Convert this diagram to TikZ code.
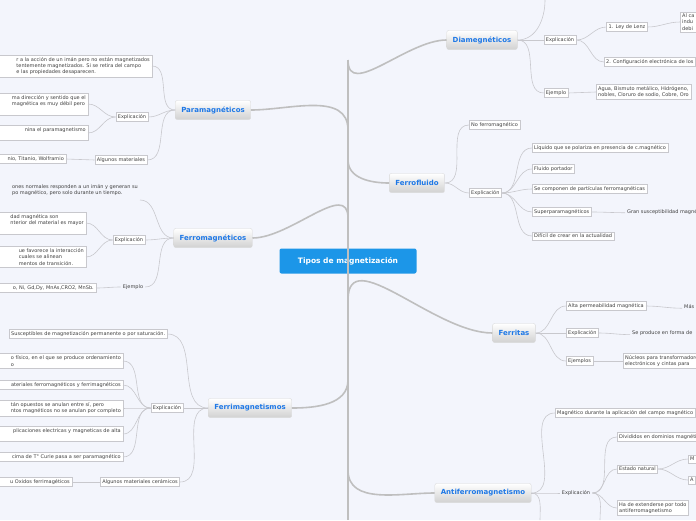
\documentclass[tikz,border=0pt]{standalone}
\usepackage{fontspec}
\setmainfont{DejaVu Sans}
\usetikzlibrary{positioning,backgrounds}
\definecolor{bgcol}{RGB}{243,245,252}
\definecolor{linecol}{RGB}{200,200,205}
\definecolor{topicblue}{RGB}{30,120,230}
\definecolor{maincol}{RGB}{28,150,232}
\tikzset{
  leaf/.style={draw=linecol, fill=white, inner sep=2pt, font=\fontsize{5}{6.2}\selectfont, text=black!75, align=left},
  cutleaf/.style={inner sep=2pt, anchor=east, font=\fontsize{5}{6.2}\selectfont, text=black!75, align=left},
  bare/.style={inner sep=2pt, font=\fontsize{5}{6.2}\selectfont, text=black!75, align=left},
  topic/.style={draw=black!15, rounded corners=2pt, top color=white, bottom color=black!18,
    minimum height=19pt, inner xsep=6pt, font=\fontsize{7}{8}\selectfont\bfseries, text=topicblue},
  link/.style={draw=linecol, line width=0.6pt},
  trunk/.style={draw=black!25, line width=1.6pt}
}
\begin{document}
\begin{tikzpicture}[x=1pt,y=-1pt]
\begin{scope}[on background layer]
\fill[bgcol] (0,0) rectangle (696,520);
\end{scope}
\clip (0,0) rectangle (696,520);
\useasboundingbox (0,0) rectangle (696,520);
% centre
\node[fill=maincol, rounded corners=2pt, text=white, font=\fontsize{7.5}{9}\selectfont\bfseries,
  minimum width=137pt, minimum height=25pt] (main) at (348,261) {Tipos de magnetización};
% topics
\node[topic] (diam) at (482,40) {Diamegnéticos};
\node[topic] (para) at (213,110) {Paramagnéticos};
\node[topic] (ffl) at (417,183) {Ferrofluido};
\node[topic] (ferro) at (213,238) {Ferromagnéticos};
\node[topic] (frt) at (514,333) {Ferritas};
\node[topic] (ferri) at (250,408) {Ferrimagnetismos};
\node[topic] (anti) at (483,493) {Antiferromagnetismo};
% trunk
\coordinate (top) at (348,60);
\coordinate (bot) at (348,520);
\draw[trunk] (top) -- (bot);
\draw[trunk] (top) to[out=-90,in=180] (diam.west);
\draw[trunk] (348,130) to[out=90,in=0] (para.east);
\draw[trunk] (348,160) to[out=-90,in=180] (ffl.west);
\draw[trunk] (348,218) to[out=90,in=0] (ferro.east);
\draw[trunk] (348,300) to[out=90,in=180] (frt.west);
\draw[trunk] (348,380) to[out=-90,in=0] (ferri.east);
\draw[trunk] (348,470) to[out=-90,in=180] (anti.west);

% Diamegneticos
\node[leaf] (dexp) at (560,40) {Explicación};
\node[leaf] (dej) at (556,93) {Ejemplo};
\node[leaf] (lenz) at (627,27) {1. Ley de Lenz};
\node[leaf, anchor=west] (conf) at (604,62) {2. Configuración electrónica de los};
\node[leaf, anchor=west] (ca) at (680,22) {Al ca\\indu\\debi};
\node[leaf, anchor=west] (agua) at (596,92) {Agua, Bismuto metálico, Hidrógeno,\\nobles, Cloruro de sodio, Cobre, Oro};
\coordinate (dup) at (545,0);
\draw[link] (diam.east) to[out=0,in=-90] (dup);
\draw[link] (diam.east) -- (dexp.west);
\draw[link] (diam.east) to[out=0,in=180] (dej.west);
\draw[link] (dexp.east) to[out=0,in=180] (lenz.west);
\draw[link] (dexp.east) to[out=0,in=180] (conf.west);
\draw[link] (lenz.east) to[out=0,in=180] (ca.west);
\draw[link] (dej.east) -- (agua.west);

% Paramagneticos
\node[cutleaf] (p1) at (152,66) {r a la acción de un imán pero no están magnetizados\\tentemente magnetizados. Si se retira del campo\\e las propiedades desaparecen.};
\node[leaf] (pexp) at (132,117) {Explicación};
\node[cutleaf] (p2) at (88,104) {ma dirección y sentido que el\\ magnética es muy débil pero\\[1pt]};
\node[cutleaf] (p3) at (88,133) {nina el paramagnetismo\\[1pt]};
\node[leaf] (palg) at (121,160) {Algunos materiales};
\node[cutleaf] (p4) at (66,159) {nio, Titanio, Wolframio};
\draw[link] (para.west) to[out=180,in=0] (p1.east);
\draw[link] (para.west) to[out=180,in=0] (pexp.east);
\draw[link] (para.west) to[out=180,in=0] (palg.east);
\draw[link] (pexp.west) to[out=180,in=0] (p2.east);
\draw[link] (pexp.west) to[out=180,in=0] (p3.east);
\draw[link] (palg.west) -- (p4.east);

% Ferromagneticos
\node[bare, anchor=east] (f1) at (140,190) {ones normales responden a un imán y generan su\\po magnético, pero solo durante un tiempo.};
\node[leaf] (fexp) at (129,240) {Explicación};
\node[cutleaf] (f2) at (86,223) {dad magnética son\\nterior del material es mayor\\[1pt]};
\node[cutleaf] (f3) at (86,257) {ue favorece la interacción\\cuales se alinean\\mentos de transición.};
\node[bare] (fej) at (133,287) {Ejemplo};
\node[cutleaf] (f4) at (96,288) {o, Ni, Gd,Dy, MnAs,CRO2, MnSb.};
\draw[link] (ferro.west) to[out=180,in=0] (140,200);
\draw[link] (ferro.west) to[out=180,in=0] (fexp.east);
\draw[link] (ferro.west) to[out=180,in=0] (fej.east);
\draw[link] (fexp.west) to[out=180,in=0] (f2.east);
\draw[link] (fexp.west) to[out=180,in=0] (f3.east);
\draw[link] (fej.west) to[out=180,in=0] (f4.east);

% Ferrimagnetismos
\node[leaf, anchor=west] (r1) at (9,334) {Susceptibles de magnetización permanente o por saturación.};
\node[leaf] (rexp) at (167,408) {Explicación};
\node[cutleaf] (r2) at (123,361) {o físico, en el que se produce ordenamiento\\o};
\node[cutleaf] (r3) at (123,385) {ateriales ferromagnéticos y ferrimagnéticos};
\node[cutleaf] (r4) at (123,408) {tán opuestos se anulan entre sí,  pero\\ntos magnéticos no se anulan por completo};
\node[cutleaf] (r5) at (123,434) {plicaciones electricas y magneticas de alta\\[1pt]};
\node[cutleaf] (r6) at (123,457) {cima de T° Curie pasa a ser paramagnético};
\node[leaf] (ralg) at (140,482) {Algunos materiales cerámicos};
\node[cutleaf] (r7) at (72,482) {u Oxidos ferrimagéticos};
\draw[link] (ferri.west) to[out=180,in=0] (r1.east);
\draw[link] (ferri.west) -- (rexp.east);
\draw[link] (ferri.west) to[out=180,in=0] (ralg.east);
\foreach \n in {r2,r3,r4,r5,r6}
  \draw[link] (rexp.west) to[out=180,in=0] (\n.east);
\draw[link] (ralg.west) -- (r7.east);

% boxes of the cut-off leaves, running past the left edge
\begin{scope}[on background layer]
\foreach \n in {p1,p2,p3,p4,f2,f3,f4,r2,r3,r4,r5,r6,r7}
  \draw[draw=linecol, fill=white, line width=0.6pt] (-5,0 |- \n.north) rectangle (\n.south east);
\end{scope}

% Ferrofluido
\node[leaf, anchor=west] (l1) at (469,125) {No ferromagnético};
\node[leaf, anchor=west] (lexp) at (469,193) {Explicación};
\node[leaf, anchor=west] (l2) at (532,148) {Líquido que se polariza en presencia de c.magnético};
\node[leaf, anchor=west] (l3) at (532,169) {Fluido portador};
\node[leaf, anchor=west] (l4) at (532,189) {Se componen de partículas ferromagnéticas};
\node[leaf, anchor=west] (l5) at (532,212) {Superparamagnéticos};
\node[bare, anchor=west] (l6) at (625,212) {Gran susceptibilidad magnética};
\node[leaf, anchor=west] (l7) at (532,236) {Difícil de crear en la actualidad};
\draw[link] (ffl.east) to[out=0,in=180] (l1.west);
\draw[link] (ffl.east) to[out=0,in=180] (lexp.west);
\foreach \n in {l2,l3,l4,l5,l7}
  \draw[link] (lexp.east) to[out=0,in=180] (\n.west);
\draw[link] (l5.east) to[out=0,in=180] ([yshift=4pt]l6.south west);

% Ferritas
\node[leaf, anchor=west] (t1) at (566,306) {Alta permeabilidad magnética};
\node[leaf, anchor=west] (texp) at (566,333) {Explicación};
\node[leaf, anchor=west] (tej) at (566,361) {Ejemplos};
\node[bare, anchor=west] (t2) at (682,307) {Más};
\node[bare, anchor=west] (t3) at (630,333) {Se produce en  forma de};
\node[leaf, anchor=west] (t4) at (623,361) {Núcleos para transformadores\\electrónicos y cintas para};
\draw[link] (frt.east) to[out=0,in=180] (t1.west);
\draw[link] (frt.east) -- (texp.west);
\draw[link] (frt.east) to[out=0,in=180] (tej.west);
\draw[link] (t1.east) to[out=0,in=180] ([yshift=3pt]t2.south west);
\draw[link] (texp.east) to[out=0,in=180] ([yshift=3pt]t3.south west);
\draw[link] (tej.east) -- (t4.west);

% Antiferromagnetismo
\node[leaf, anchor=west] (a1) at (555,413) {Magnético durante la aplicación del campo magnético};
\node[bare] (aexp) at (576,493) {Explicación};
\node[leaf, anchor=west] (a2) at (617,437) {Divididos en dominios magnéticos};
\node[leaf, anchor=west] (a3) at (617,469) {Estado natural};
\node[leaf, anchor=west] (a4) at (688,459) {M};
\node[leaf, anchor=west] (a5) at (688,480) {A};
\node[leaf, anchor=west] (a6) at (617,508) {Ha de extenderse por todo\\antiferromagnetismo};
\coordinate (adown) at (540,520);
\draw[link] (anti.east) to[out=0,in=180] (a1.west);
\draw[link] (anti.east) to[out=0,in=180] (aexp.west);
\draw[link] (anti.east) to[out=0,in=90] (adown);
\draw[link] (aexp.east) to[out=0,in=180] (a2.west);
\draw[link] (aexp.east) to[out=0,in=180] (a3.west);
\draw[link] (aexp.east) to[out=0,in=180] (a6.west);
\draw[link] (aexp.east) to[out=0,in=90] (600,520);
\draw[link] (a3.east) to[out=0,in=180] (a4.west);
\draw[link] (a3.east) to[out=0,in=180] (a5.west);
\end{tikzpicture}
\end{document}
